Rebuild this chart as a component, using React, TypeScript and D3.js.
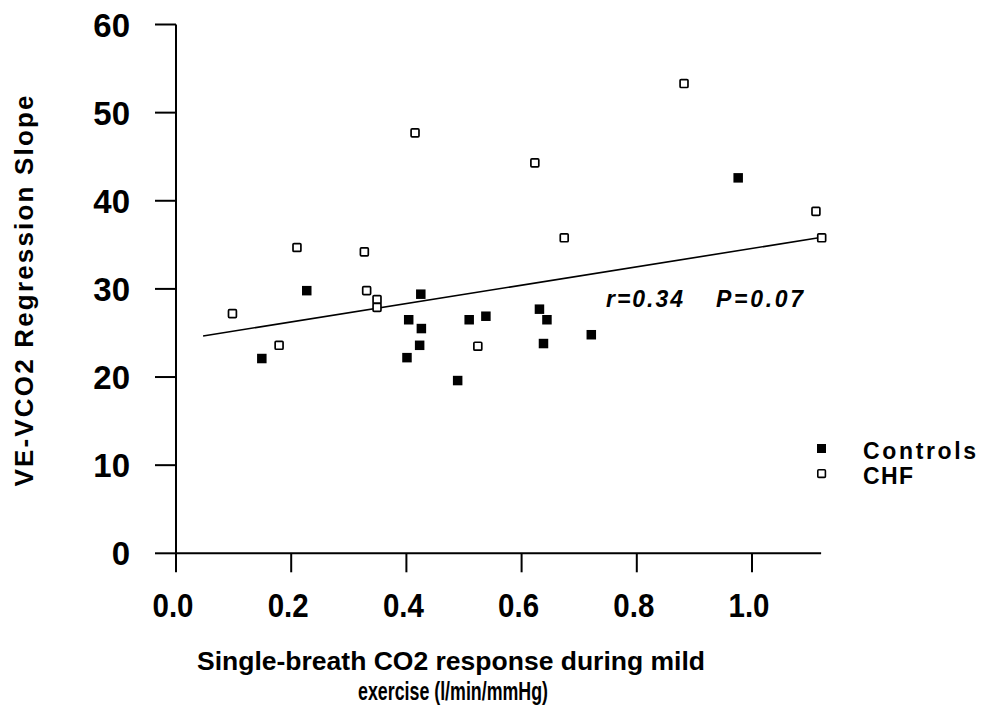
import React from "react";
import * as d3 from "d3";

const controlsX = [0.149, 0.227, 0.425, 0.404, 0.426, 0.423, 0.401, 0.489, 0.509, 0.538, 0.631, 0.644, 0.638, 0.721, 0.976];
const controlsY = [22.1, 29.8, 29.4, 26.5, 25.5, 23.6, 22.2, 19.6, 26.5, 26.9, 27.7, 26.5, 23.8, 24.8, 42.6];
const chfX = [0.415, 0.623, 0.674, 0.210, 0.327, 0.331, 0.349, 0.349, 0.098, 0.179, 0.524, 0.882, 1.111, 1.121];
const chfY = [47.7, 44.3, 35.8, 34.7, 34.2, 29.8, 28.8, 27.9, 27.2, 23.6, 23.5, 53.3, 38.8, 35.8];
const regX = [0.047, 1.116];
const regY = [24.66, 35.8];
const xTicks = [0, 0.2, 0.4, 0.6, 0.8, 1.0];
const yTicks = [0, 10, 20, 30, 40, 50, 60];
const xMax = 1.12;

const FONT = "'Liberation Sans', Arial, Helvetica, sans-serif";

export default function App() {
  const x = d3.scaleLinear().domain([0, 1]).range([176, 752]);
  const y = d3.scaleLinear().domain([0, 60]).range([553.3, 24.5]);
  const line = d3.line<number>().x((d, i) => x(regX[i])).y((d, i) => y(regY[i]));
  const s = 9.5;
  return (
    <svg width={982} height={710} style={{ position: "absolute", left: 0, top: 0, background: "#fff" }}>
      <rect width={982} height={710} fill="#fff" />
      {/* axes */}
      <line x1={x(0)} x2={x(0)} y1={y(60)} y2={y(0)} stroke="#000" strokeWidth={2} />
      <line x1={x(0)} x2={x(xMax)} y1={y(0)} y2={y(0)} stroke="#000" strokeWidth={2} />
      {yTicks.map((t) => (
        <g key={"y" + t}>
          <line x1={x(0) - 21} x2={x(0)} y1={y(t)} y2={y(t)} stroke="#000" strokeWidth={2} />
          <text x={130} y={y(t) + 12} textAnchor="end" fontFamily={FONT} fontWeight="bold" fontSize={33}>
            {String(t)}
          </text>
        </g>
      ))}
      {xTicks.map((t) => (
        <g key={"x" + t}>
          <line x1={x(t)} x2={x(t)} y1={y(0)} y2={y(0) + 19} stroke="#000" strokeWidth={2} />
          <text x={x(t) - 3} y={617} textAnchor="middle" fontFamily={FONT} fontWeight="bold" fontSize={33} textLength={41} lengthAdjust="spacingAndGlyphs">
            {t.toFixed(1)}
          </text>
        </g>
      ))}
      {/* regression line */}
      <path d={line(regX) || ""} fill="none" stroke="#000" strokeWidth={1.6} />
      {/* points */}
      {controlsX.map((v, i) => (
        <rect key={"c" + i} x={x(v) - s / 2} y={y(controlsY[i]) - s / 2} width={s} height={s} fill="#000" />
      ))}
      {chfX.map((v, i) => (
        <rect key={"h" + i} x={x(v) - (s - 1.6) / 2} y={y(chfY[i]) - (s - 1.6) / 2} width={s - 1.6} height={s - 1.6} fill="#fff" stroke="#000" strokeWidth={1.7} rx={1} />
      ))}
      {/* annotation */}
      <text x={606} y={307} fontFamily={FONT} fontStyle="italic" fontWeight="bold" fontSize={23} textLength={77} lengthAdjust="spacing">r=0.34</text>
      <text x={716} y={307} fontFamily={FONT} fontStyle="italic" fontWeight="bold" fontSize={23} textLength={87} lengthAdjust="spacing">P=0.07</text>
      {/* legend */}
      <rect x={817} y={444} width={9} height={9} fill="#000" />
      <rect x={817.8} y={469.8} width={7.6} height={7.6} fill="#fff" stroke="#000" strokeWidth={1.6} rx={1} />
      <text x={863} y={459} fontFamily={FONT} fontWeight="bold" fontSize={23} textLength={113} lengthAdjust="spacing">Controls</text>
      <text x={863} y={484} fontFamily={FONT} fontWeight="bold" fontSize={23} textLength={50} lengthAdjust="spacing">CHF</text>
      {/* axis titles */}
      <text transform="translate(33,291) rotate(-90)" textAnchor="middle" fontFamily={FONT} fontWeight="bold" fontSize={26} textLength={391} lengthAdjust="spacing">
        VE-VCO2 Regression Slope
      </text>
      <text x={451} y={670} textAnchor="middle" fontFamily={FONT} fontWeight="bold" fontSize={26} textLength={508} lengthAdjust="spacingAndGlyphs">
        Single-breath CO2 response during mild
      </text>
      <text x={453} y={700} textAnchor="middle" fontFamily={FONT} fontWeight="bold" fontSize={26} textLength={190} lengthAdjust="spacingAndGlyphs">
        exercise (l/min/mmHg)
      </text>
    </svg>
  );
}
